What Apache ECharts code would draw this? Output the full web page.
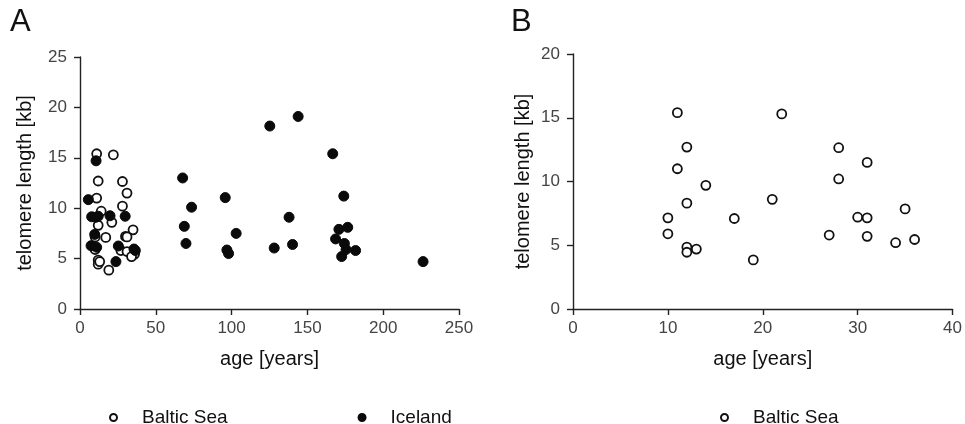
<!DOCTYPE html>
<html>
<head>
<meta charset="utf-8">
<script src="https://cdn.jsdelivr.net/npm/echarts@6/dist/echarts.min.js"></script>
<style>
html,body{margin:0;padding:0;background:#fff;}
#chart{width:965px;height:424px;}
</style>
</head>
<body>
<div id="chart"></div>
<script>
// Baltic Sea: age [years], telomere length [kb]
var balticAge = [11, 22, 12, 28, 31, 11, 28, 14, 21, 12, 35, 10, 17, 30, 31, 10, 27, 31, 36, 34, 12, 12, 13, 19];
var balticTel = [15.4, 15.3, 12.7, 12.65, 11.5, 11.0, 10.2, 9.7, 8.6, 8.3, 7.85, 7.15, 7.1, 7.2, 7.15, 5.9, 5.8, 5.7, 5.45, 5.2, 4.85, 4.45, 4.7, 3.85];
// Iceland
var icelandAge = [5.5, 10.6, 7.7, 10.4, 12, 19.8, 29.8, 9.7, 7.3, 11, 25.3, 23.7, 35.6, 36.5,
	67.7, 73.6, 68.8, 69.9, 95.8, 103, 96.9, 98, 125.2, 143.9, 128.1, 137.9, 140.2,
	166.7, 174, 170.8, 176.6, 168.6, 174.4, 175.5, 181.8, 172.6, 226.3];
var icelandTel = [10.85, 14.7, 9.15, 9.1, 9.2, 9.25, 9.2, 7.4, 6.28, 6.12, 6.25, 4.7, 5.95, 5.8,
	13.0, 10.1, 8.2, 6.5, 11.05, 7.5, 5.85, 5.5, 18.15, 19.1, 6.05, 9.1, 6.4,
	15.4, 11.2, 7.9, 8.1, 6.95, 6.5, 5.9, 5.8, 5.2, 4.7];

function pairs(xs, ys){
	var out = [];
	for (var i = 0; i < xs.length; i++) out.push([xs[i], ys[i]]);
	return out;
}

var FONT = 'Liberation Sans, Arial';
var axisCommon = {
	axisLine: {show: true, lineStyle: {color: '#222', width: 1.4}},
	axisTick: {show: true, length: 6, lineStyle: {color: '#222', width: 1.4}},
	splitLine: {show: false},
	axisLabel: {color: '#444', fontSize: 17, fontFamily: FONT},
	nameTextStyle: {color: '#111', fontSize: 20, fontFamily: FONT}
};
function mkX(idx, max, interval){
	var ax = echarts.util.merge({
		type: 'value', gridIndex: idx, min: 0, max: max, interval: interval,
		name: 'age [years]', nameLocation: 'middle', nameGap: 40
	}, axisCommon, true);
	ax.axisLabel = echarts.util.extend({margin: 11}, axisCommon.axisLabel);
	return ax;
}
function mkY(idx, max, interval, gap){
	var ax = echarts.util.merge({
		type: 'value', gridIndex: idx, min: 0, max: max, interval: interval,
		name: 'telomere length [kb]', nameLocation: 'middle', nameGap: gap
	}, axisCommon, true);
	ax.axisLabel = echarts.util.extend({margin: 13}, axisCommon.axisLabel);
	return ax;
}

var openStyle = {color: '#fff', borderColor: '#111', borderWidth: 1.8, opacity: 1};
var fillStyle = {color: '#0a0a0a', borderColor: '#0a0a0a', borderWidth: 1, opacity: 1};

var legendText = {color: '#111', fontSize: 19, fontFamily: FONT, padding: [0, 0, 0, 20]};

var option = {
	backgroundColor: '#fff',
	animation: false,
	grid: [
		{left: 80, right: 506, top: 57, bottom: 115},
		{left: 573, right: 9, top: 54, bottom: 115}
	],
	xAxis: [mkX(0, 250, 50), mkX(1, 40, 10)],
	yAxis: [mkY(0, 25, 5, 45), mkY(1, 20, 5, 40)],
	legend: [
		{left: 104, top: 403, itemWidth: 7, itemHeight: 7, itemGap: 130, icon: 'circle',
			data: ['Baltic Sea', 'Iceland'], textStyle: legendText, selectedMode: false},
		{left: 715, top: 403, itemWidth: 7, itemHeight: 7, icon: 'circle',
			data: ['Baltic Sea '], textStyle: legendText, selectedMode: false,
			formatter: function(n){ return n.trim(); }}
	],
	graphic: [
		{type: 'text', left: 10, top: 7, style: {text: 'A', fontSize: 31, fill: '#111', fontFamily: FONT}},
		{type: 'text', left: 511, top: 7, style: {text: 'B', fontSize: 31, fill: '#111', fontFamily: FONT}}
	],
	series: [
		{name: 'Baltic Sea', type: 'scatter', xAxisIndex: 0, yAxisIndex: 0, symbol: 'circle', symbolSize: 9,
			itemStyle: openStyle, data: pairs(balticAge, balticTel)},
		{name: 'Iceland', type: 'scatter', xAxisIndex: 0, yAxisIndex: 0, symbol: 'circle', symbolSize: 10,
			itemStyle: fillStyle, data: pairs(icelandAge, icelandTel)},
		{name: 'Baltic Sea ', type: 'scatter', xAxisIndex: 1, yAxisIndex: 1, symbol: 'circle', symbolSize: 9,
			itemStyle: openStyle, data: pairs(balticAge, balticTel)}
	]
};

var myChart = echarts.init(document.getElementById('chart'));
myChart.setOption(option);
</script>
</body>
</html>
